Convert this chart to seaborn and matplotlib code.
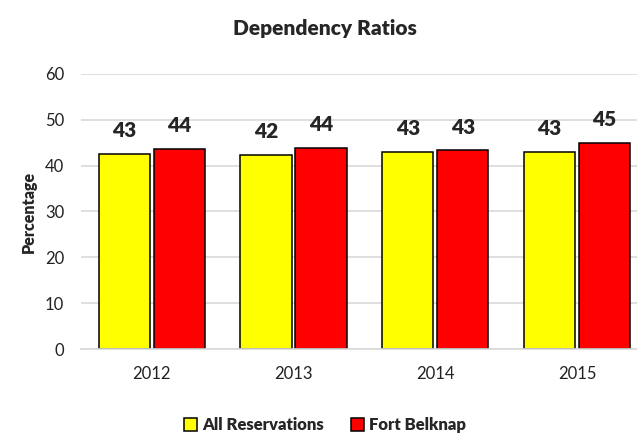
import pandas as pd
import numpy as np
import matplotlib.pyplot as plt
import seaborn as sns

# Values
years = ["2012", "2013", "2014", "2015"]
all_reservations = [42.6, 42.3, 42.9, 42.9]
fort_belknap = [43.7, 43.8, 43.3, 45.0]
series_names = ["All Reservations", "Fort Belknap"]
colors = ["#FFFF00", "#FF0000"]

df = pd.DataFrame({
    "Year": years * 2,
    "Value": all_reservations + fort_belknap,
    "Series": [series_names[0]] * 4 + [series_names[1]] * 4,
})

sns.set_style("white")
plt.rcParams["font.family"] = ["Lato", "DejaVu Sans"]

fig = plt.figure(figsize=(6.37, 4.36), dpi=100)
ax = fig.add_axes([0.127, 0.1995, 0.89, 0.631])

sns.barplot(data=df, x="Year", y="Value", hue="Series", palette=colors,
            saturation=1, edgecolor="black", linewidth=1.1,
            width=0.776, gap=0.07, errorbar=None, ax=ax)

# data labels, rounded like the original
for cont in ax.containers:
    labels = [f"{round(b.get_height()):.0f}" for b in cont]
    ax.bar_label(cont, labels=labels, padding=10, fontsize=15, fontweight="heavy")

ax.set_xlim(-0.5, 3.5)
ax.set_ylim(0, 60)
ax.set_yticks(np.arange(0, 61, 10))
ax.yaxis.grid(True, color="#d9d9d9", linewidth=1.2)
ax.set_axisbelow(True)
for s in ["top", "right", "left"]:
    ax.spines[s].set_visible(False)
ax.spines["bottom"].set_color("#d9d9d9")
ax.spines["bottom"].set_linewidth(1.2)
ax.tick_params(axis="both", length=0, labelsize=12, colors="#222222")
ax.tick_params(axis="x", pad=12)
ax.tick_params(axis="y", pad=12)
ax.set_xlabel("")
ax.set_ylabel("Percentage", fontsize=11.5, fontweight="heavy", labelpad=6)

ax.legend_.remove()
handles = [plt.Rectangle((0, 0), 1, 1, facecolor=c, edgecolor="black", linewidth=1.1)
           for c in colors]
fig.legend(handles, series_names, loc="center", bbox_to_anchor=(0.51, 0.025),
           ncol=2, frameon=False, handlelength=0.8, handleheight=0.8,
           handletextpad=0.3, columnspacing=1.6,
           prop={"size": 12, "weight": "heavy"})

fig.text(0.51, 0.935, "Dependency Ratios", ha="center", va="center",
         fontsize=15, fontweight="heavy")

fig.savefig("out.png", dpi=100)
